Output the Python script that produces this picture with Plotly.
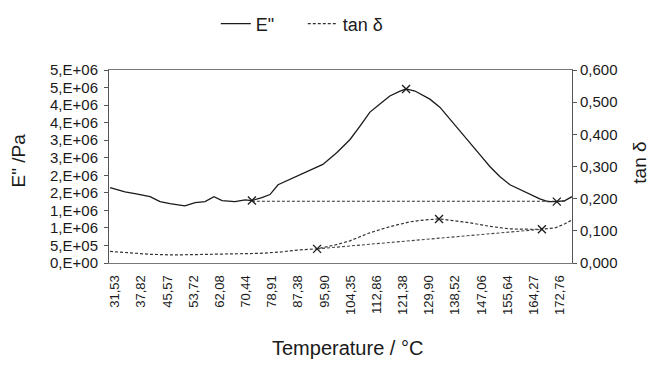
import plotly.graph_objects as go

# Category (sample) axis labels, one every label step
temp_labels = ["31,53", "37,82", "45,57", "53,72", "62,08", "70,44", "78,91", "87,38", "95,90",
               "104,35", "112,86", "121,38", "129,90", "138,52", "147,06", "155,64", "164,27", "172,76"]

# E'' (Pa) vs position on the category axis (in label steps)
e_pos = [-0.19, 0.11, 0.38, 0.76, 1.34, 1.72, 2.10, 2.67, 3.06, 3.44, 3.78, 4.09, 4.58, 4.97, 5.23,
         5.61, 5.92, 6.23, 6.68, 7.26, 7.94, 8.48, 8.98, 9.36, 9.74, 10.12, 10.50, 10.89, 11.12,
         11.46, 12.03, 12.41, 12.80, 13.18, 13.56, 13.94, 14.32, 14.71, 15.09, 15.47, 15.85,
         16.23, 16.54, 16.88, 17.19, 17.46]
e_vals = [2.15e6, 2.09e6, 2.03e6, 1.98e6, 1.89e6, 1.75e6, 1.69e6, 1.63e6, 1.72e6, 1.75e6, 1.89e6,
          1.78e6, 1.75e6, 1.80e6, 1.78e6, 1.86e6, 1.95e6, 2.23e6, 2.38e6, 2.58e6, 2.81e6, 3.15e6,
          3.52e6, 3.90e6, 4.30e6, 4.53e6, 4.76e6, 4.90e6, 4.96e6, 4.90e6, 4.67e6, 4.44e6, 4.10e6,
          3.78e6, 3.44e6, 3.09e6, 2.75e6, 2.46e6, 2.23e6, 2.09e6, 1.95e6, 1.83e6, 1.75e6, 1.75e6,
          1.78e6, 1.89e6]

# tan delta vs position
t_pos = [-0.19, 0.57, 1.34, 2.29, 3.25, 4.39, 5.54, 6.30, 7.07, 7.72, 8.40, 8.98, 9.74, 10.50,
         11.27, 11.84, 12.38, 12.99, 13.56, 14.32, 15.09, 15.85, 16.31, 16.81, 17.19, 17.46]
t_vals = [0.036, 0.031, 0.027, 0.025, 0.027, 0.028, 0.030, 0.034, 0.041, 0.044, 0.056, 0.069,
          0.094, 0.113, 0.128, 0.134, 0.137, 0.131, 0.125, 0.114, 0.106, 0.105, 0.105, 0.109,
          0.122, 0.134]

# Characteristic points (x marks) and baselines
e_mark_pos = [5.23, 11.12, 16.88]
e_mark_vals = [1.78e6, 4.96e6, 1.75e6]
t_mark_pos = [7.72, 12.38, 16.31]
t_mark_vals = [0.044, 0.137, 0.105]
e_base_pos = [5.23, 17.2]
e_base_vals = [1.76e6, 1.76e6]
t_base_pos = [7.72, 16.31]
t_base_vals = [0.044, 0.105]

left_tickvals = [i * 5e5 for i in range(12)]
left_ticktext = ["0,E+00", "5,E+05", "1,E+06", "1,E+06", "2,E+06", "2,E+06", "3,E+06", "3,E+06",
                 "4,E+06", "4,E+06", "5,E+06", "5,E+06"]
right_tickvals = [0, 0.1, 0.2, 0.3, 0.4, 0.5, 0.6]
right_ticktext = ["0,000", "0,100", "0,200", "0,300", "0,400", "0,500", "0,600"]

ink = "#1a1a1a"
dash = "3px,2px"
fnt = "Liberation Sans, Arial, sans-serif"

fig = go.Figure()
fig.add_trace(go.Scatter(x=e_pos, y=e_vals, mode="lines", name='E"',
                         line=dict(color=ink, width=1.3)))
fig.add_trace(go.Scatter(x=t_pos, y=t_vals, mode="lines", name="tan δ", yaxis="y2",
                         line=dict(color="#333333", width=1.2, dash=dash)))
fig.add_trace(go.Scatter(x=e_base_pos, y=e_base_vals, mode="lines", showlegend=False,
                         line=dict(color="#333333", width=1.1, dash=dash)))
fig.add_trace(go.Scatter(x=t_base_pos, y=t_base_vals, mode="lines", showlegend=False, yaxis="y2",
                         line=dict(color="#444444", width=1.1, dash=dash)))
fig.add_trace(go.Scatter(x=e_mark_pos, y=e_mark_vals, mode="markers", showlegend=False,
                         marker=dict(symbol="x-thin", size=8, line=dict(color=ink, width=1.3))))
fig.add_trace(go.Scatter(x=t_mark_pos, y=t_mark_vals, mode="markers", showlegend=False, yaxis="y2",
                         marker=dict(symbol="x-thin", size=8, line=dict(color=ink, width=1.3))))

fig.update_layout(
    width=650, height=366,
    margin=dict(l=109, r=78, t=70, b=103),
    paper_bgcolor="white", plot_bgcolor="white",
    font=dict(family=fnt, size=13, color=ink),
    showlegend=True,
    legend=dict(orientation="h", xref="container", yref="container", x=0.332, y=0.985,
                xanchor="left", yanchor="top", font=dict(size=18), bgcolor="rgba(0,0,0,0)",
                entrywidth=42, entrywidthmode="pixels"),
    xaxis=dict(range=[-0.23, 17.46], tickmode="array", tickvals=list(range(len(temp_labels))),
               ticktext=temp_labels, tickangle=-90, showgrid=False, zeroline=False,
               showline=True, linecolor="#777777", linewidth=1, mirror=True, ticks="",
               ticklabelstandoff=6, tickfont=dict(size=13)),
    yaxis=dict(range=[0, 5.5e6], tickmode="array", tickvals=left_tickvals, ticktext=left_ticktext,
               showgrid=False, zeroline=False, showline=True, linecolor="#555555", linewidth=1,
               ticks="outside", ticklen=4, tickcolor="#555555", ticklabelstandoff=3,
               tickfont=dict(size=15)),
    yaxis2=dict(range=[0, 0.6], tickmode="array", tickvals=right_tickvals, ticktext=right_ticktext,
                overlaying="y", side="right", showgrid=False, zeroline=False, showline=True,
                linecolor="#555555", linewidth=1, ticks="outside", ticklen=4, tickcolor="#555555",
                tickfont=dict(size=15)),
    annotations=[
        dict(text='E" /Pa', xref="paper", yref="paper", x=-0.195, y=0.53, xanchor="center",
             yanchor="middle", textangle=-90, showarrow=False, font=dict(size=19)),
        dict(text="tan δ", xref="paper", yref="paper", x=1.147, y=0.52, xanchor="center",
             yanchor="middle", textangle=-90, showarrow=False, font=dict(size=19)),
        dict(text="Temperature / °C", xref="paper", yref="paper", x=0.515, y=-0.44,
             xanchor="center", yanchor="middle", showarrow=False, font=dict(size=20)),
    ],
)

fig.write_html("out.html")
